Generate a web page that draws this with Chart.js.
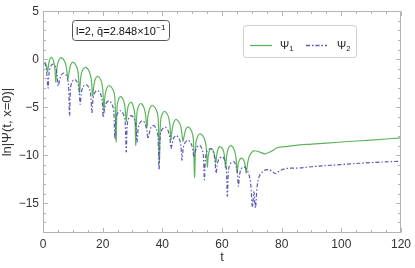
<!DOCTYPE html>
<html><head><meta charset="utf-8">
<script src="https://cdn.jsdelivr.net/npm/chart.js@4"></script>
<style>html,body{margin:0;padding:0;background:#fff;}#wrap{width:415px;height:268px;}</style>
</head><body><div id="wrap"><canvas id="c" width="415" height="268"></canvas></div>
<script>
// ---- data ----
const tPsi1 = [0.6,1.1,1.5, 1.78,2.2,2.9,3.6,4.02, 4.3, 4.71,5.32,6.17,7.35,7.96, 8.37, 8.76,9.34,10.03,11.27,11.84, 12.23,
  12.67,13.33,14.43,15.54,16.2, 16.64, 17.02,17.58,18.4,19.46,20.02, 20.4, 20.81,21.43,22.15,23.48,24.09, 24.5,
  24.84,25.35,26.1,27.05,27.56, 27.9, 28.22,28.7,29.6,30.3,30.78, 31.1, 31.47,32.03,32.9,33.88,34.43, 34.8,
  35.22,35.85,36.8,37.95,38.58, 39.0, 39.39,39.98,40.9,41.93,42.51, 42.9, 43.3,43.9,44.7,45.9,46.5, 46.9,
  47.29,47.88,48.7,49.83,50.41, 50.8, 51.23,51.88,52.7,54.03,54.67, 55.1, 55.38,55.8,56.4,57.2,57.62, 57.9,
  58.23,58.73,59.4,60.38,60.87, 61.2, 61.59,62.18,63.1,64.13,64.71, 65.1, 65.4,65.85,66.6,67.35,67.8, 68.1,
  68.6,69.3,70.6,72.2,74.4,76.5,78.5,82,86,90,100,110,120];
const psi1 = [-0.3,-0.6,-1.3, -0.8,-0.05,0.2,-0.25,-1.1, -2.36, -0.83,-0.08,0.17,-0.28,-1.13, -2.0, -1.3,-0.55,-0.3,-0.75,-1.6, -3.49,
  -1.85,-1.1,-0.85,-1.3,-2.15, -3.83, -2.78,-2.03,-1.78,-2.23,-3.08, -5.3, -3.74,-2.99,-2.74,-3.19,-4.04, -8.6,
  -4.9,-4.15,-3.9,-4.35,-5.2, -6.47, -5.5,-4.75,-4.5,-4.95,-5.8, -8.96, -5.62,-4.87,-4.62,-5.07,-5.92, -7.15,
  -5.82,-5.07,-4.82,-5.27,-6.12, -10.67, -6.45,-5.7,-5.45,-5.9,-6.75, -8.38, -7.28,-6.53,-6.28,-6.73,-7.58, -8.52,
  -8.05,-7.3,-7.05,-7.5,-8.35, -12.28, -8.77,-8.02,-7.77,-8.22,-9.07, -11.2, -10.1,-9.5,-9.3,-9.6,-10.2, -10.8,
  -10.0,-9.3,-9.1,-9.45,-10.2, -11.3, -10.0,-9.25,-9.0,-9.45,-10.3, -11.8, -11.0,-10.5,-10.3,-10.55,-11.1, -11.85,
  -10.8,-10.0,-9.55,-9.62,-9.85,-9.6,-9.22,-9.08,-8.93,-8.85,-8.62,-8.42,-8.2];

const tPsi2 = [0.6,1.1,1.7, 2.04,2.54,3.4,4.23,4.73, 5.07, 5.45,6.03,6.9,7.94,8.52, 8.9, 9.26,9.79,10.6,11.56,12.1, 12.45,
  12.85,13.44,14.4,15.41,16.0, 16.4, 16.78,17.35,18.3,19.25,19.82, 20.2, 20.59,21.18,22.1,23.13,23.71, 24.1,
  24.48,25.05,26.0,26.95,27.52, 27.9, 28.26,28.8,29.6,30.6,31.14, 31.5, 31.87,32.43,33.4,34.28,34.83, 35.2,
  35.57,36.13,37.0,37.98,38.53, 38.9, 39.3,39.9,40.9,41.9,42.5, 42.9, 43.27,43.83,44.7,45.68,46.23, 46.6,
  47.0,47.6,48.6,49.6,50.2, 50.6, 50.95,51.48,52.5,53.23,53.75, 54.1, 54.49,55.08,56.3,57.03,57.61, 58.0,
  58.38,58.95,60.2,60.85,61.42, 61.8, 62.17,62.73,64.0,64.58,65.13, 65.5, 65.85,66.4,67.3,68.3,69.0,69.6,
  70.2,70.7,71.2,71.8,72.5,73.5,75.0,76.5,78.0,79.5,81.6,86,90,100,110,120];
const psi2 = [-0.35,-1.0,-3.0, -1.41,-0.76,-0.51,-0.86,-1.61, -2.8, -2.34,-1.69,-1.44,-1.79,-2.54, -5.88, -3.0,-2.35,-2.1,-2.45,-3.2, -4.69,
  -3.53,-2.88,-2.63,-2.98,-3.73, -5.54, -4.15,-3.5,-3.25,-3.6,-4.35, -6.05, -5.24,-4.59,-4.34,-4.69,-5.44, -8.28,
  -6.27,-5.62,-5.37,-5.72,-6.47, -9.65, -6.78,-6.13,-5.88,-6.23,-6.98, -8.62, -7.3,-6.65,-6.4,-6.75,-7.5, -8.28,
  -7.8,-7.15,-6.9,-7.25,-8.0, -11.53, -7.98,-7.33,-7.08,-7.43,-8.18, -9.3, -8.84,-8.19,-7.94,-8.29,-9.04, -10.5,
  -9.3,-8.7,-8.45,-8.75,-9.4, -10.2, -9.7,-9.2,-8.96,-9.31,-10.06, -12.56, -10.2,-9.55,-9.3,-9.65,-10.4, -11.87,
  -11.06,-10.41,-10.16,-10.51,-11.26, -14.27, -11.57,-10.92,-10.67,-11.02,-11.77, -13.24, -12.1,-11.45,-11.19,-11.5,-12.0,-12.9,
  -15.4,-13.8,-15.5,-13.2,-12.2,-11.75,-11.5,-11.6,-11.93,-11.6,-11.38,-11.33,-11.2,-10.97,-10.77,-10.62];

const xTicks = [0,20,40,60,80,100,120];
const yTicks = [-15,-10,-5,0,5];
const xMinorStep = 5, yMinorStep = 1;
const seriesNames = ['Ψ','Ψ'];
const seriesSubs = ['1','2'];
const annotationText = 'l=2, q\u0304=2.848×10';
const annotationExp = '\u22121';
const xTitle = 't';
const yTitle = 'ln|Ψ(t, x=0)|';

const GREEN = '#5cb55c';
const BLUE = '#5a5ab4';
const FONT = '"Liberation Sans", Arial, sans-serif';

const toPts = (xs, ys) => xs.map((x, i) => ({x, y: ys[i]}));
const fmt = v => (v < 0 ? '\u2212' + Math.abs(v) : String(v));

const framePlugin = {
  id: 'frame',
  afterDatasetsDraw(chart) {
    const {ctx, chartArea: a, scales: {x, y}} = chart;
    ctx.save();
    ctx.strokeStyle = '#b4b4b4';
    ctx.lineWidth = 1;
    const L = Math.round(a.left) + 0.5, R = Math.round(a.right) - 0.5;
    const T = Math.round(a.top) + 0.5, B = Math.round(a.bottom) - 0.5;
    ctx.strokeRect(L, T, R - L, B - T);
    ctx.beginPath();
    for (let v = x.min; v <= x.max + 1e-9; v += xMinorStep) {
      const px = Math.round(x.getPixelForValue(v)) + 0.5;
      const len = xTicks.includes(v) ? 4.5 : 2.5;
      ctx.moveTo(px, B); ctx.lineTo(px, B - len);
      ctx.moveTo(px, T); ctx.lineTo(px, T + len);
    }
    for (let v = Math.ceil(y.min); v <= y.max + 1e-9; v += yMinorStep) {
      const py = Math.round(y.getPixelForValue(v)) + 0.5;
      const len = yTicks.includes(v) ? 4.5 : 2.5;
      ctx.moveTo(L, py); ctx.lineTo(L + len, py);
      ctx.moveTo(R, py); ctx.lineTo(R - len, py);
    }
    ctx.stroke();

    const rr = (x0, y0, w, h, r) => {
      ctx.beginPath();
      ctx.moveTo(x0 + r, y0); ctx.lineTo(x0 + w - r, y0); ctx.arcTo(x0 + w, y0, x0 + w, y0 + r, r);
      ctx.lineTo(x0 + w, y0 + h - r); ctx.arcTo(x0 + w, y0 + h, x0 + w - r, y0 + h, r);
      ctx.lineTo(x0 + r, y0 + h); ctx.arcTo(x0, y0 + h, x0, y0 + h - r, r);
      ctx.lineTo(x0, y0 + r); ctx.arcTo(x0, y0, x0 + r, y0, r); ctx.closePath();
    };
    // annotation box
    ctx.fillStyle = '#fff';
    rr(72.5, 20.5, 97, 20, 3); ctx.fill();
    ctx.strokeStyle = '#555'; ctx.stroke();
    ctx.fillStyle = '#111';
    ctx.font = '11px ' + FONT;
    ctx.textBaseline = 'alphabetic';
    ctx.fillText(annotationText, 76, 35);
    const w1 = ctx.measureText(annotationText).width;
    ctx.font = '8px ' + FONT;
    ctx.fillText(annotationExp, 76 + w1 + 0.5, 30);

    // legend
    ctx.fillStyle = '#fff';
    rr(243.5, 25.5, 113, 32, 3); ctx.fill();
    ctx.strokeStyle = '#cfcfcf'; ctx.stroke();
    const items = [{c: GREEN, d: [], x0: 250, x1: 272, tx: 280}, {c: BLUE, d: [4, 2, 1.5, 2], x0: 306, x1: 327, tx: 337}];
    items.forEach((it, i) => {
      ctx.strokeStyle = it.c; ctx.lineWidth = 1.3; ctx.setLineDash(it.d);
      ctx.beginPath(); ctx.moveTo(it.x0, 45.5); ctx.lineTo(it.x1, 45.5); ctx.stroke();
      ctx.setLineDash([]);
      ctx.fillStyle = '#222';
      ctx.font = '11px ' + FONT;
      ctx.fillText(seriesNames[i], it.tx, 49);
      const w = ctx.measureText(seriesNames[i]).width;
      ctx.font = '7.5px ' + FONT;
      ctx.fillText(seriesSubs[i], it.tx + w, 51);
    });
    ctx.restore();
  }
};

new Chart(document.getElementById('c'), {
  type: 'line',
  data: {
    datasets: [
      {label: 'Ψ1', data: toPts(tPsi1, psi1), borderColor: GREEN, borderWidth: 1.2, pointRadius: 0, tension: 0.35, order: 1},
      {label: 'Ψ2', data: toPts(tPsi2, psi2), borderColor: BLUE, borderWidth: 1.2, borderDash: [4, 2, 1.5, 2], pointRadius: 0, tension: 0.35, order: 0}
    ]
  },
  options: {
    responsive: false, animation: false, devicePixelRatio: 1,
    layout: {padding: {top: 7, right: 9, left: 0, bottom: 0}},
    plugins: {legend: {display: false}, tooltip: {enabled: false}},
    scales: {
      x: {
        type: 'linear', min: 0, max: 120,
        afterBuildTicks: s => { s.ticks = xTicks.map(v => ({value: v})); },
        afterFit: s => { s.height = 35; },
        grid: {display: false, drawTicks: false}, border: {display: false},
        ticks: {padding: 4, maxRotation: 0, autoSkip: false, color: '#333', font: {family: FONT, size: 12}, callback: v => fmt(v)},
        title: {display: true, text: xTitle, color: '#333', font: {family: FONT, size: 13}, padding: {top: 0, bottom: 3}}
      },
      y: {
        type: 'linear', min: -18.1, max: 5,
        afterBuildTicks: s => { s.ticks = yTicks.map(v => ({value: v})); },
        afterFit: s => { s.width = 43; },
        grid: {display: false, drawTicks: false}, border: {display: false},
        ticks: {padding: 4, autoSkip: false, color: '#333', font: {family: FONT, size: 12}, callback: v => fmt(v)},
        title: {display: true, text: yTitle, color: '#333', font: {family: FONT, size: 13}, padding: {top: 0, bottom: 0}}
      }
    }
  },
  plugins: [framePlugin]
});
</script></body></html>
